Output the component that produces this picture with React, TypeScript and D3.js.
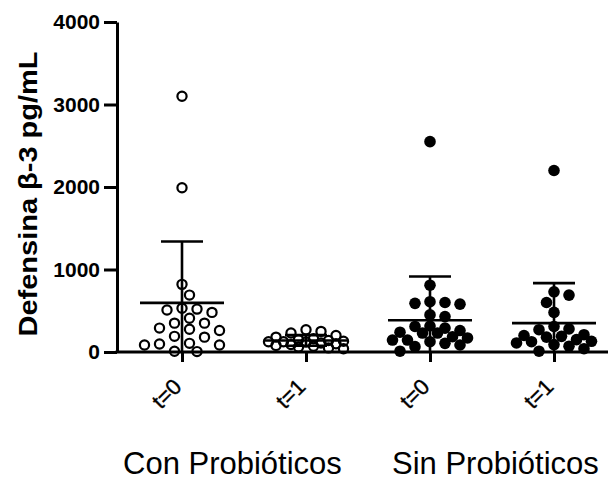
import { useEffect, useRef } from 'react';
import * as d3 from 'd3';

// Defensina beta-3 values (pg/mL)
const groupKeys = ['con0', 'con1', 'sin0', 'sin1'];
const tickLabels = ['t=0', 't=1', 't=0', 't=1'];
const groupNames = ['Con Probióticos', 'Sin Probióticos'];
const filledMarkers = [false, false, true, true];

const conT0 = [3100, 1990, 820, 690, 530, 520, 510, 480, 410, 350, 350, 290, 275, 260, 190, 180, 105, 97, 85, 85, 10, 5];
const conT1 = [270, 250, 230, 200, 180, 160, 150, 140, 130, 125, 125, 120, 110, 100, 90, 80, 70, 60, 50, 40];
const sinT0 = [2550, 810, 610, 600, 590, 580, 450, 430, 315, 310, 290, 260, 240, 230, 230, 185, 170, 145, 145, 125, 105, 85, 65, 10];
const sinT1 = [2200, 730, 690, 600, 480, 310, 280, 270, 210, 200, 190, 180, 150, 130, 125, 110, 90, 70, 40, 10];

// mean and SD as shown by the bars
const means = [595, 140, 385, 350];
const sds = [745, 65, 530, 485];

const yTicks = [0, 1000, 2000, 3000, 4000];

const App = () => {
  const svgRef = useRef(null);

  useEffect(() => {
    const width = 608;
    const height = 480;
    const seriesValues = [conT0, conT1, sinT0, sinT1];

    d3.select(svgRef.current).selectAll('*').remove();
    const svg = d3.select(svgRef.current)
      .attr('width', width)
      .attr('height', height);

    const y = d3.scaleLinear().domain([0, 4000]).range([352, 22]);
    const x = d3.scalePoint().domain(groupKeys).range([120, 616]).padding(0.5);
    const axisX = 117;

    // simple column scatter: push points sideways until they don't collide
    const swarm = (values, cx, minDist) => {
      const placed = [];
      const sorted = [...values].sort((a, b) => b - a);
      const offsets = [0];
      for (let k = 1; k <= 5; k++) offsets.push(k * 7.5, -k * 7.5);
      sorted.forEach(v => {
        const py = y(v);
        let best = null;
        let bestD = -1;
        for (const o of offsets) {
          const px = cx + o;
          const d = placed.length
            ? d3.min(placed, p => Math.hypot(p.x - px, p.y - py))
            : Infinity;
          if (d >= minDist) { best = px; break; }
          if (d > bestD) { bestD = d; best = px; }
        }
        placed.push({ x: best, y: py, v });
      });
      return placed;
    };

    // points
    seriesValues.forEach((vals, i) => {
      const cx = x(groupKeys[i]);
      const filled = filledMarkers[i];
      const pts = swarm(vals, cx, 11);
      svg.append('g')
        .selectAll('circle')
        .data(pts)
        .enter()
        .append('circle')
        .attr('cx', d => d.x)
        .attr('cy', d => d.y)
        .attr('r', filled ? 5.8 : 4.6)
        .attr('fill', filled ? '#000' : 'none')
        .attr('stroke', '#000')
        .attr('stroke-width', filled ? 0 : 2.2);
    });

    // mean +/- SD
    const bars = svg.append('g').attr('stroke', '#000').attr('stroke-width', 2.6);
    means.forEach((m, i) => {
      const cx = x(groupKeys[i]);
      const top = m + sds[i];
      const bottom = Math.max(0, m - sds[i]);
      bars.append('line').attr('x1', cx).attr('x2', cx).attr('y1', y(top)).attr('y2', y(bottom));
      bars.append('line').attr('x1', cx - 42).attr('x2', cx + 42).attr('y1', y(m)).attr('y2', y(m));
      bars.append('line').attr('x1', cx - 21).attr('x2', cx + 21).attr('y1', y(top)).attr('y2', y(top));
      if (m - sds[i] > 0) {
        bars.append('line').attr('x1', cx - 21).attr('x2', cx + 21).attr('y1', y(bottom)).attr('y2', y(bottom));
      }
    });

    // y axis
    const yAxis = svg.append('g')
      .attr('transform', `translate(${axisX},0)`)
      .call(d3.axisLeft(y).tickValues(yTicks).tickFormat(d3.format('d')).tickSize(13).tickSizeOuter(0).tickPadding(4));
    yAxis.select('.domain').attr('stroke-width', 3);
    yAxis.selectAll('.tick line').attr('stroke-width', 3);
    yAxis.selectAll('.tick text')
      .attr('font-family', 'Arial, "Liberation Sans", sans-serif')
      .attr('font-size', 21)
      .attr('font-weight', 'bold')
      .attr('fill', '#000');

    // x axis
    const xAxis = svg.append('g')
      .attr('transform', `translate(0,${y(0)})`)
      .call(d3.axisBottom(x).tickSize(10).tickSizeOuter(0).tickFormat(() => ''));
    xAxis.select('.domain').remove();
    xAxis.selectAll('.tick line').attr('stroke-width', 3);
    xAxis.append('line')
      .attr('x1', axisX - 1.5)
      .attr('x2', width)
      .attr('stroke', '#000')
      .attr('stroke-width', 3);

    // rotated tick labels
    svg.append('g')
      .selectAll('text')
      .data(groupKeys)
      .enter()
      .append('text')
      .attr('transform', d => `translate(${x(d) + 1},388) rotate(-45)`)
      .attr('text-anchor', 'end')
      .attr('font-family', 'Arial, "Liberation Sans", sans-serif')
      .attr('font-size', 22)
      .attr('stroke', '#000')
      .attr('stroke-width', 0.4)
      .attr('fill', '#000')
      .text((d, i) => tickLabels[i]);

    // group labels
    svg.append('g')
      .selectAll('text')
      .data(groupNames)
      .enter()
      .append('text')
      .attr('x', (d, i) => (i === 0 ? 123 : 392))
      .attr('y', 474)
      .attr('font-family', 'Arial, "Liberation Sans", sans-serif')
      .attr('font-size', 31)
      .attr('fill', '#000')
      .text(d => d);

    // y axis title
    svg.append('text')
      .attr('transform', 'translate(37,194) rotate(-90)')
      .attr('text-anchor', 'middle')
      .attr('font-family', 'Arial, "Liberation Sans", sans-serif')
      .attr('font-size', 25)
      .attr('font-weight', 'bold')
      .attr('textLength', 285)
      .attr('lengthAdjust', 'spacingAndGlyphs')
      .attr('fill', '#000')
      .text('Defensina β-3 pg/mL');
  }, []);

  return (
    <svg ref={svgRef} style={{ position: 'absolute', left: 0, top: 0, background: '#fff' }}></svg>
  );
};

export default App;
